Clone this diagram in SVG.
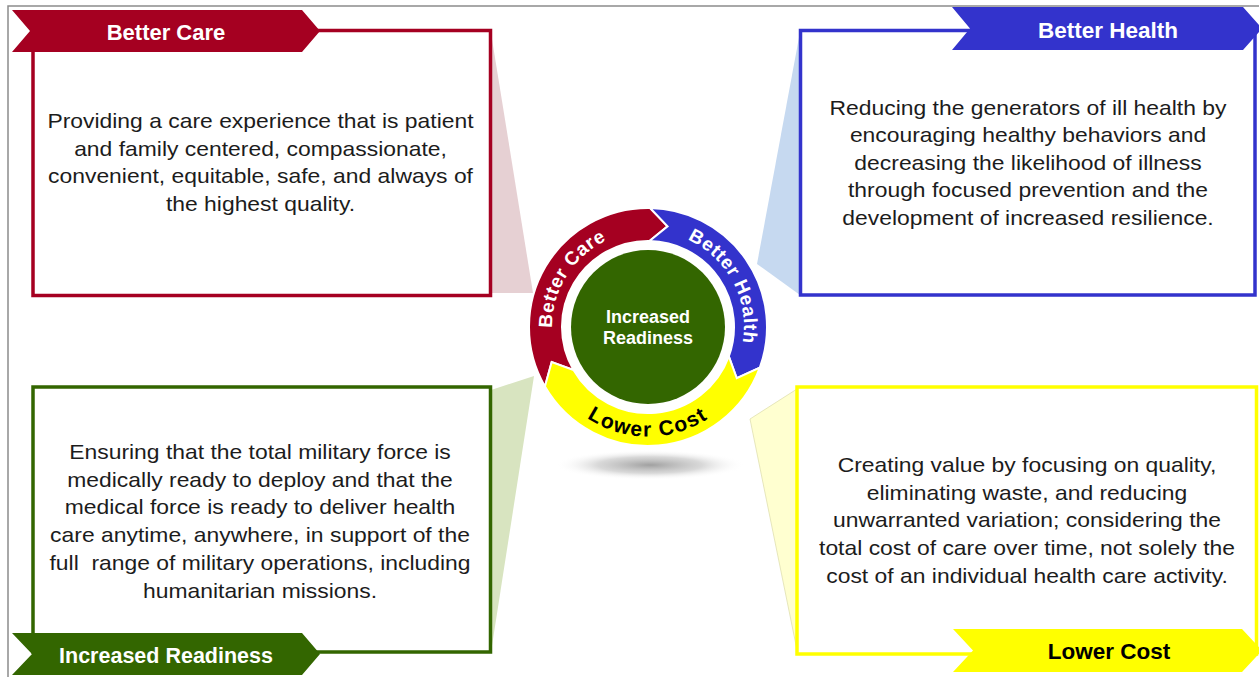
<svg xmlns="http://www.w3.org/2000/svg" width="1259" height="677" viewBox="0 0 1259 677">
<defs>
<style>
.body{font-family:"Liberation Sans",Arial,sans-serif;font-size:20px;fill:#1c1c1c;text-anchor:middle}
.ban{font-family:"Liberation Sans",Arial,sans-serif;font-weight:bold;text-anchor:middle}
.ring{font-family:"Liberation Sans",Arial,sans-serif;font-weight:bold;font-size:19px;letter-spacing:0.6px;fill:#fff}
.box{fill:#fff;stroke-width:3.5}
</style>
<radialGradient id="shadow" cx="0.5" cy="0.5" r="0.5">
<stop offset="0" stop-color="#a0a0a0"/>
<stop offset="0.55" stop-color="#c8c8c8" stop-opacity="0.7"/>
<stop offset="1" stop-color="#ffffff" stop-opacity="0"/>
</radialGradient>
<path id="pCare" d="M563.24,372.07 A96,96 0 0 1 651.35,231.06"/>
<path id="pHealth" d="M651.35,231.06 A96,96 0 0 1 729.41,377.87"/>
<path id="pCost" d="M553.17,381.75 A109.5,109.5 0 0 0 742.83,381.75"/>
</defs>
<rect width="1259" height="677" fill="#fff"/>
<path d="M8,677 V6 H1259" fill="none" stroke="#8c8c8c" stroke-width="1.5"/>

<g id="connectors">
<polygon points="491,33 533,293 491,293" fill="#e6d0d3"/>
<polygon points="800,32 757,264 800,295" fill="#c6d9f0"/>
<polygon points="491,390 534,376 491,652" fill="#d8e4c0"/>
<polygon points="797,389 750,419 797,650" fill="#ffffd0" stroke="#e0e0b0" stroke-width="0.8"/>
</g>

<g id="better-care">
<rect class="box" x="33" y="30.5" width="457.5" height="265" stroke="#a50021"/>
<polygon points="12,10 302,10 320,31 302,52 12,52 30,31" fill="#a50021"/>
<text class="ban" x="166" y="39.5" font-size="22" fill="#fff">Better Care</text>
<g transform="translate(260.5 0) scale(1.145 1)">
<text class="body" x="0" y="128">Providing a care experience that is patient</text>
<text class="body" x="0" y="155.6">and family centered, compassionate,</text>
<text class="body" x="0" y="183.2">convenient, equitable, safe, and always of</text>
<text class="body" x="0" y="210.8">the highest quality.</text>
</g>
</g>

<g id="better-health">
<rect class="box" x="800.5" y="30.5" width="454.5" height="264.5" stroke="#3333cc"/>
<polygon points="952,7 1243,7 1262,28.5 1243,50 952,50 970,28.5" fill="#3333cc"/>
<text class="ban" x="1108" y="37.5" font-size="22.5" fill="#fff">Better Health</text>
<g transform="translate(1028 0) scale(1.145 1)">
<text class="body" x="0" y="115">Reducing the generators of ill health by</text>
<text class="body" x="0" y="142.5">encouraging healthy behaviors and</text>
<text class="body" x="0" y="170">decreasing the likelihood of illness</text>
<text class="body" x="0" y="197.5">through focused prevention and the</text>
<text class="body" x="0" y="225">development of increased resilience.</text>
</g>
</g>

<g id="increased-readiness">
<rect class="box" x="33" y="387" width="457.5" height="265" stroke="#336600"/>
<polygon points="12,633 302,633 320,654 302,675 12,675 32,654" fill="#336600"/>
<text class="ban" x="166" y="663" font-size="21.5" fill="#fff">Increased Readiness</text>
<g transform="translate(260 0) scale(1.145 1)">
<text class="body" x="0" y="459">Ensuring that the total military force is</text>
<text class="body" x="0" y="486.7">medically ready to deploy and that the</text>
<text class="body" x="0" y="514.5">medical force is ready to deliver health</text>
<text class="body" x="0" y="542.2">care anytime, anywhere, in support of the</text>
<text class="body" x="0" y="570">full&#160; range of military operations, including</text>
<text class="body" x="0" y="597.7">humanitarian missions.</text>
</g>
</g>

<g id="lower-cost">
<rect class="box" x="797" y="387" width="459.5" height="267" stroke="#ffff00"/>
<polygon points="953,629 1242,629 1262,650.5 1242,672 953,672 973,650.5" fill="#ffff00"/>
<text class="ban" x="1109" y="659" font-size="22.5" fill="#000">Lower Cost</text>
<g transform="translate(1027 0) scale(1.145 1)">
<text class="body" x="0" y="472">Creating value by focusing on quality,</text>
<text class="body" x="0" y="499.75">eliminating waste, and reducing</text>
<text class="body" x="0" y="527.5">unwarranted variation; considering the</text>
<text class="body" x="0" y="555.25">total cost of care over time, not solely the</text>
<text class="body" x="0" y="583">cost of an individual health care activity.</text>
</g>
</g>

<g id="cycle">
<ellipse cx="650" cy="465" rx="95" ry="15" fill="url(#shadow)"/>
<path d="M544.94,386.5 A119,119 0 0 1 650.08,208.02 L667.56,226.38 L649.50,241.01 A86,86 0 0 0 573.52,370 L551.68,362.06 Z" fill="#a50021" stroke="#fff" stroke-width="2"/>
<path d="M650.08,208.02 A119,119 0 0 1 759.82,367.70 L736.77,378.25 L728.81,356.41 A86,86 0 0 0 649.50,241.01 L667.56,226.38 Z" fill="#3333cc" stroke="#fff" stroke-width="2"/>
<path d="M759.82,367.70 A119,119 0 0 1 544.94,386.5 L551.68,362.06 L573.52,370 A86,86 0 0 0 728.81,356.41 L736.77,378.25 Z" fill="#ffff00" stroke="#fff" stroke-width="2"/>
<circle cx="648" cy="327" r="77" fill="#336600"/>
<text class="ring"><textPath href="#pCare" startOffset="50%" text-anchor="middle">Better Care</textPath></text>
<text class="ring"><textPath href="#pHealth" startOffset="50%" text-anchor="middle">Better Health</textPath></text>
<text class="ring" style="fill:#000;font-size:21px;letter-spacing:1.5px"><textPath href="#pCost" startOffset="50%" text-anchor="middle">Lower Cost</textPath></text>
<text class="ban" x="648" y="323" font-size="18" fill="#fff">Increased</text>
<text class="ban" x="648" y="344" font-size="18" fill="#fff">Readiness</text>
</g>
</svg>
